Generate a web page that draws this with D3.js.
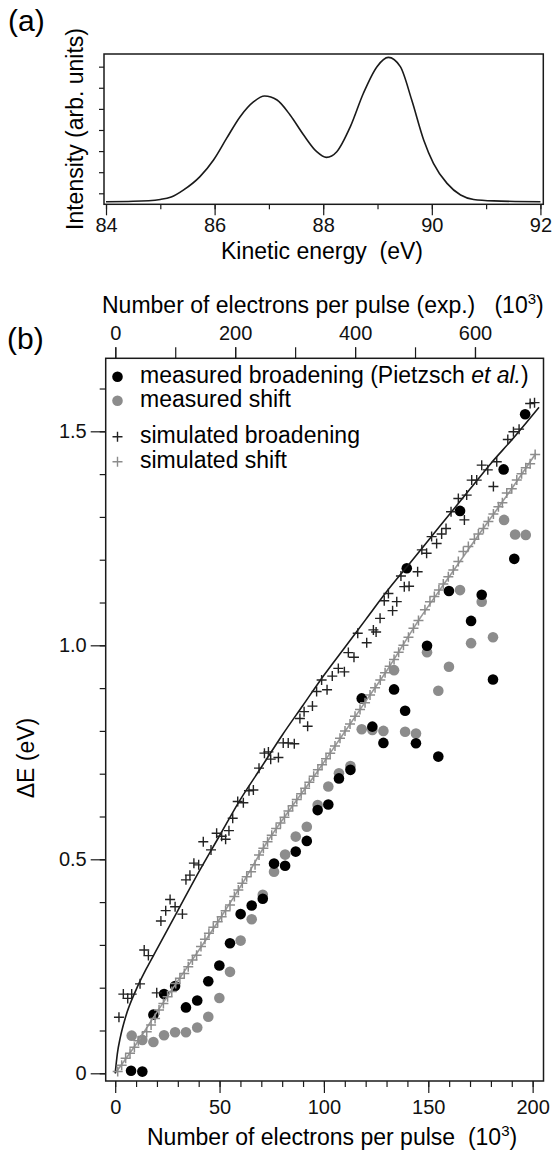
<!DOCTYPE html>
<html>
<head>
<meta charset="utf-8">
<script src="https://cdn.jsdelivr.net/npm/d3@7"></script>
<style>
  html, body { margin: 0; padding: 0; background: #fff; }
  svg { display: block; font-family: "Liberation Sans", Arial, sans-serif; }
</style>
</head>
<body>
<svg id="fig"></svg>
<script>
'use strict';

// ---- panel (a) : photoemission spectrum ----
var kinEnergy = [84.0, 84.5, 85.0, 85.2, 85.43, 85.73, 85.98, 86.22, 86.47, 86.72, 86.92, 87.15, 87.39, 87.64, 87.88,
                 88.06, 88.25, 88.5, 88.74, 88.99, 89.2, 89.42, 89.63, 89.85, 90.03, 90.28, 90.53, 90.77, 91.14, 92.0];
var intensity = [0.60, 0.62, 0.71, 0.82, 1.16, 1.79, 2.58, 3.60, 4.63, 5.34, 5.61, 5.42, 4.71, 3.76, 2.97,
                 2.70, 2.97, 4.16, 5.74, 7.00, 7.44, 7.00, 5.42, 3.53, 2.42, 1.47, 0.92, 0.71, 0.64, 0.60];
var kineticTicks = [84, 86, 88, 90, 92];
var kineticMinor = [84, 85, 86, 87, 88, 89, 90, 91, 92];
var intensityTicks = [1, 2, 3, 4, 5, 6, 7];

// ---- panel (b) : broadening and shift vs number of electrons ----
var measX = [7.6, 13.0, 18.3, 23.4, 28.7, 33.9, 39.3, 44.6, 49.9, 55.0, 60.1, 65.4, 70.7, 76.1, 81.4, 86.5, 91.8, 97.0, 102.1,
             107.2, 112.7, 118.1, 123.2, 128.5, 133.6, 138.9, 139.7, 144.1, 149.4, 154.8, 159.9, 165.2, 170.5, 175.6, 181.0,
             186.1, 191.2, 196.4];
var measBroad = [0.006, 0.004, 0.137, 0.185, 0.204, 0.154, 0.170, 0.215, 0.252, 0.304, 0.372, 0.392, 0.408, 0.490, 0.485,
                 0.518, 0.543, 0.615, 0.628, 0.689, 0.709, 0.876, 0.810, 0.772, 0.897, 0.847, 1.180, 0.771, 0.999, 0.740,
                 1.127, 1.314, 1.057, 1.118, 0.920, 1.411, 1.202, 1.540];
var shiftX = [7.9, 13.0, 18.3, 23.4, 28.7, 33.9, 39.3, 44.6, 49.9, 55.0, 60.1, 65.4, 70.7, 76.1, 81.4, 86.5, 91.8, 97.0, 102.1,
              107.2, 112.7, 118.1, 123.2, 128.5, 133.6, 138.9, 144.1, 149.4, 154.8, 159.9, 165.2, 170.5, 175.6, 181.0,
              186.3, 191.6, 196.7];
var measShift = [0.088, 0.078, 0.073, 0.089, 0.096, 0.096, 0.107, 0.132, 0.176, 0.237, 0.310, 0.360, 0.417, 0.471, 0.511,
                 0.553, 0.576, 0.627, 0.670, 0.701, 0.718, 0.804, 0.802, 0.800, 0.942, 0.798, 0.794, 0.984, 0.894, 0.950,
                 1.129, 1.005, 1.102, 1.019, 1.293, 1.259, 1.258];

var simBroadX = [1.8, 3.9, 6.0, 7.9, 11.9, 13.9, 15.9, 19.9, 21.9, 24.2, 26.3, 28.7, 32.2, 33.9, 35.8, 37.7, 40.0, 42.2, 45.9,
                 48.6, 51.0, 52.9, 54.5, 56.3, 58.7, 61.4, 64.1, 66.2, 68.9, 71.5, 73.4, 74.5, 78.2, 80.5, 82.9, 85.8, 88.5,
                 90.5, 92.2, 94.5, 96.5, 98.9, 101.5, 104.0, 106.9, 109.8, 111.7, 114.4, 116.2, 120.5, 123.7, 125.0, 126.9,
                 128.9, 130.9, 132.9, 134.9, 136.9, 138.5, 140.8, 144.9, 146.9, 149.2, 151.6, 154.0, 156.4, 158.5, 160.9,
                 164.4, 167.3, 168.4, 170.8, 173.2, 175.6, 178.5, 181.2, 182.8, 188.1, 190.8, 193.5, 198.8, 200.9];
var simBroad = [0.131, 0.185, 0.175, 0.185, 0.209, 0.288, 0.275, 0.188, 0.356, 0.380, 0.406, 0.389, 0.372, 0.452, 0.463,
                0.491, 0.487, 0.541, 0.522, 0.561, 0.554, 0.547, 0.567, 0.596, 0.635, 0.632, 0.660, 0.662, 0.713, 0.748,
                0.751, 0.734, 0.738, 0.772, 0.772, 0.770, 0.829, 0.845, 0.811, 0.858, 0.892, 0.919, 0.896, 0.928, 0.946,
                0.938, 0.983, 0.972, 1.028, 1.006, 1.036, 1.031, 1.063, 1.104, 1.121, 1.081, 1.102, 1.162, 1.137, 1.138,
                1.172, 1.223, 1.215, 1.254, 1.238, 1.260, 1.273, 1.312, 1.343, 1.293, 1.351, 1.386, 1.386, 1.421, 1.410,
                1.371, 1.429, 1.481, 1.499, 1.505, 1.565, 1.567];

var simShiftX = [1.2, 3.1, 5.0, 7.1, 9.2, 11.1, 13.0, 15.1, 17.2, 19.1, 21.0, 23.1, 25.1, 27.1, 29.0, 31.0, 33.1, 35.0, 37.0,
                 39.0, 41.1, 43.0, 44.9, 47.0, 49.1, 51.0, 52.9, 55.0, 57.1, 59.0, 60.9, 63.0, 65.1, 67.0, 68.9, 71.0, 73.0,
                 75.0, 77.1, 79.2, 81.1, 83.0, 85.0, 87.0, 89.1, 91.0, 93.0, 95.1, 97.1, 99.1, 101.0, 103.0, 105.3, 107.7,
                 110.1, 112.5, 114.9, 117.3, 119.7, 122.1, 124.5, 127.0, 129.3, 131.5, 133.6, 135.8, 138.1, 140.5, 142.9,
                 145.3, 148.4, 150.8, 152.9, 155.1, 157.2, 159.6, 162.0, 164.4, 166.8, 169.2, 172.1, 174.0, 176.4, 178.8,
                 181.2, 183.6, 185.5, 187.6, 190.0, 192.4, 194.7, 196.7, 198.8, 201.2];
var simShift = [0.004, 0.019, 0.035, 0.047, 0.061, 0.076, 0.085, 0.097, 0.113, 0.128, 0.148, 0.163, 0.179, 0.191, 0.210,
                0.222, 0.233, 0.249, 0.265, 0.276, 0.296, 0.313, 0.327, 0.341, 0.354, 0.366, 0.380, 0.393, 0.413, 0.428,
                0.444, 0.459, 0.471, 0.487, 0.510, 0.526, 0.541, 0.556, 0.572, 0.585, 0.598, 0.613, 0.625, 0.640, 0.653,
                0.666, 0.680, 0.694, 0.709, 0.721, 0.735, 0.748, 0.765, 0.783, 0.800, 0.816, 0.834, 0.850, 0.866, 0.884,
                0.901, 0.919, 0.936, 0.951, 0.967, 0.984, 1.000, 1.019, 1.040, 1.058, 1.083, 1.102, 1.114, 1.129, 1.143,
                1.160, 1.176, 1.196, 1.219, 1.231, 1.248, 1.260, 1.273, 1.289, 1.307, 1.324, 1.333, 1.356, 1.366, 1.386,
                1.401, 1.415, 1.424, 1.446];

// guide curves drawn through the simulations
var fitBroadX = [0, 1, 2.5, 5, 10, 15, 20, 30, 40, 50, 60, 70, 80, 90, 100, 110, 120, 130, 140, 150, 160, 170, 180, 190, 203];
var fitBroad = [0, 0.045, 0.085, 0.132, 0.195, 0.245, 0.290, 0.380, 0.470, 0.555, 0.640, 0.715, 0.790, 0.860, 0.930, 0.995,
                1.060, 1.125, 1.185, 1.245, 1.305, 1.365, 1.425, 1.480, 1.556];
var fitShiftX = [0, 10, 20, 30, 40, 50, 60, 73.4, 85, 95.7, 110, 120, 130, 146, 160, 175, 190, 201.5];
var fitShift = [0, 0.068, 0.143, 0.216, 0.287, 0.360, 0.436, 0.545, 0.625, 0.697, 0.798, 0.869, 0.940, 1.063, 1.160, 1.264,
                1.366, 1.448];

var electronTicks = [0, 50, 100, 150, 200];
var electronMinor = d3.range(0, 201, 10);
var expTicks = [0, 200, 400, 600];
var expMinor = [0, 100, 200, 300, 400, 500, 600];
var deltaTicks = [0, 0.5, 1.0, 1.5];
var deltaMinor = d3.range(0, 17).map(function (i) { return i / 10; });

var legendRows = [
  { text: 'measured broadening (Pietzsch ', italic: 'et al.', tail: ')', kind: 'dot', color: '#000' },
  { text: 'measured shift', kind: 'dot', color: '#8c8c8c' },
  { text: 'simulated broadening', kind: 'cross', color: '#222' },
  { text: 'simulated shift', kind: 'cross', color: '#8c8c8c' }
];
var legendY = [376.7, 400.7, 436.7, 461.7];

var W = 552, H = 1153;
var INK = '#1a1a1a';
var GRAY = '#8c8c8c';

var svg = d3.select('#fig')
  .attr('width', W)
  .attr('height', H);

svg.append('rect')
  .attr('width', W)
  .attr('height', H)
  .attr('fill', '#fff');

function styleAxis(g, size) {
  g.select('.domain').remove();
  g.attr('font-family', '"Liberation Sans", Arial, sans-serif')
    .attr('font-size', size);
  g.selectAll('.tick line').attr('stroke', INK).attr('stroke-width', 1.2);
  g.selectAll('.tick text').attr('fill', '#111');
}

function crossPath(s) {
  return 'M' + (-s) + ',0H' + s + 'M0,' + (-s) + 'V' + s;
}

// ===================== panel (a) =====================
var boxA = { left: 104, right: 543.3, top: 54, bottom: 204.3 };
var xA = d3.scaleLinear().domain([83.963, 92.053]).range([boxA.left, boxA.right]);
var yA = d3.scaleLinear().domain([0.479, 7.60]).range([boxA.bottom, boxA.top]);

var gA = svg.append('g');

gA.append('g')
  .attr('transform', 'translate(0,' + boxA.bottom + ')')
  .call(d3.axisBottom(xA).tickValues(kineticMinor).tickSize(5).tickFormat(''))
  .call(styleAxis, 20);
gA.append('g')
  .attr('transform', 'translate(0,' + boxA.bottom + ')')
  .call(d3.axisBottom(xA).tickValues(kineticTicks).tickSize(11).tickPadding(3).tickFormat(d3.format('d')))
  .call(styleAxis, 20);
gA.append('g')
  .attr('transform', 'translate(' + boxA.left + ',0)')
  .call(d3.axisLeft(yA).tickValues(intensityTicks).tickSize(5).tickFormat(''))
  .call(styleAxis, 20);

var spectrum = kinEnergy.map(function (e, i) { return [e, intensity[i]]; });
gA.append('path')
  .datum(spectrum)
  .attr('fill', 'none')
  .attr('stroke', INK)
  .attr('stroke-width', 1.6)
  .attr('d', d3.line()
    .curve(d3.curveMonotoneX)
    .x(function (d) { return xA(d[0]); })
    .y(function (d) { return yA(d[1]); }));

gA.append('rect')
  .attr('x', boxA.left)
  .attr('y', boxA.top)
  .attr('width', boxA.right - boxA.left)
  .attr('height', boxA.bottom - boxA.top)
  .attr('fill', 'none')
  .attr('stroke', INK)
  .attr('stroke-width', 1.5);

gA.append('text')
  .attr('x', 322)
  .attr('y', 259)
  .attr('text-anchor', 'middle')
  .attr('font-size', 23)
  .style('white-space', 'pre')
  .text('Kinetic energy  (eV)');

gA.append('text')
  .attr('transform', 'translate(83,129) rotate(-90)')
  .attr('text-anchor', 'middle')
  .attr('font-size', 23)
  .text('Intensity (arb. units)');

gA.append('text')
  .attr('x', 8)
  .attr('y', 31)
  .attr('font-size', 30)
  .text('(a)');

// ===================== panel (b) =====================
var boxB = { left: 105.7, right: 543.5, top: 358.3, bottom: 1081 };
var xB = d3.scaleLinear().domain([-4.55, 205.2]).range([boxB.left, boxB.right]);
var xTop = d3.scaleLinear().domain([-16, 714.3]).range([boxB.left, boxB.right]);
var yB = d3.scaleLinear().domain([-0.018, 1.6706]).range([boxB.bottom, boxB.top]);

var gB = svg.append('g');

// bottom axis
gB.append('g')
  .attr('transform', 'translate(0,' + boxB.bottom + ')')
  .call(d3.axisBottom(xB).tickValues(electronMinor).tickSize(6).tickFormat(''))
  .call(styleAxis, 20);
gB.append('g')
  .attr('transform', 'translate(0,' + boxB.bottom + ')')
  .call(d3.axisBottom(xB).tickValues(electronTicks).tickSize(12).tickPadding(7).tickFormat(d3.format('d')))
  .call(styleAxis, 20);

// top axis (experimental scale)
gB.append('g')
  .attr('transform', 'translate(0,' + boxB.top + ')')
  .call(d3.axisTop(xTop).tickValues(expMinor).tickSize(11).tickFormat(''))
  .call(styleAxis, 20);
gB.append('g')
  .attr('transform', 'translate(0,' + boxB.top + ')')
  .call(d3.axisTop(xTop).tickValues(expTicks).tickSize(11).tickPadding(7).tickFormat(d3.format('d')))
  .call(styleAxis, 20);

// left axis
gB.append('g')
  .attr('transform', 'translate(' + boxB.left + ',0)')
  .call(d3.axisLeft(yB).tickValues(deltaMinor).tickSize(6).tickFormat(''))
  .call(styleAxis, 20);
gB.append('g')
  .attr('transform', 'translate(' + boxB.left + ',0)')
  .call(d3.axisLeft(yB).tickValues(deltaTicks).tickSize(15).tickPadding(4)
    .tickFormat(function (d) { return d === 0 ? '0' : d3.format('.1f')(d); }))
  .call(styleAxis, 20);

var plot = gB.append('g');

function pairs(xs, ys) {
  return xs.map(function (x, i) { return [x, ys[i]]; });
}

var lineB = d3.line()
  .curve(d3.curveMonotoneX)
  .x(function (d) { return xB(d[0]); })
  .y(function (d) { return yB(d[1]); });

// measured shift (gray dots)
plot.append('g').selectAll('circle')
  .data(pairs(shiftX, measShift))
  .join('circle')
  .attr('cx', function (d) { return xB(d[0]); })
  .attr('cy', function (d) { return yB(d[1]); })
  .attr('r', 5.3)
  .attr('fill', GRAY);

// measured broadening (black dots)
plot.append('g').selectAll('circle')
  .data(pairs(measX, measBroad))
  .join('circle')
  .attr('cx', function (d) { return xB(d[0]); })
  .attr('cy', function (d) { return yB(d[1]); })
  .attr('r', 5.3)
  .attr('fill', '#000');

plot.append('path')
  .datum(pairs(fitShiftX, fitShift))
  .attr('fill', 'none')
  .attr('stroke', '#999')
  .attr('stroke-width', 1.6)
  .attr('d', lineB);

plot.append('path')
  .datum(pairs(fitBroadX, fitBroad))
  .attr('fill', 'none')
  .attr('stroke', INK)
  .attr('stroke-width', 1.6)
  .attr('d', lineB);

// simulated shift (gray crosses)
plot.append('g').selectAll('path')
  .data(pairs(simShiftX, simShift))
  .join('path')
  .attr('transform', function (d) { return 'translate(' + xB(d[0]) + ',' + yB(d[1]) + ')'; })
  .attr('d', crossPath(5))
  .attr('stroke', GRAY)
  .attr('stroke-width', 1.5);

// simulated broadening (black crosses)
plot.append('g').selectAll('path')
  .data(pairs(simBroadX, simBroad))
  .join('path')
  .attr('transform', function (d) { return 'translate(' + xB(d[0]) + ',' + yB(d[1]) + ')'; })
  .attr('d', crossPath(5))
  .attr('stroke', '#222')
  .attr('stroke-width', 1.4);

gB.append('rect')
  .attr('x', boxB.left)
  .attr('y', boxB.top)
  .attr('width', boxB.right - boxB.left)
  .attr('height', boxB.bottom - boxB.top)
  .attr('fill', 'none')
  .attr('stroke', INK)
  .attr('stroke-width', 1.5);

// legend
var legend = gB.append('g');
legendRows.forEach(function (row, i) {
  var cy = legendY[i];
  if (row.kind === 'dot') {
    legend.append('circle')
      .attr('cx', 117.5)
      .attr('cy', cy)
      .attr('r', 5.3)
      .attr('fill', row.color);
  } else {
    legend.append('path')
      .attr('transform', 'translate(117.5,' + cy + ')')
      .attr('d', crossPath(5))
      .attr('stroke', row.color)
      .attr('stroke-width', 1.4);
  }
  var t = legend.append('text')
    .attr('x', 140)
    .attr('y', cy + 6.5)
    .attr('font-size', 23)
    .style('white-space', 'pre');
  t.append('tspan').text(row.text);
  if (row.italic) {
    t.append('tspan').attr('font-style', 'italic').text(row.italic);
    t.append('tspan').text(row.tail);
  }
});

// axis titles
var bottomTitle = gB.append('text')
  .attr('x', 147)
  .attr('y', 1145)
  .attr('font-size', 23)
  .style('white-space', 'pre');
bottomTitle.append('tspan').text('Number of electrons per pulse  (10');
bottomTitle.append('tspan').attr('font-size', 15).attr('dy', -9).text('3');
bottomTitle.append('tspan').attr('dy', 9).text(')');

var topTitle = gB.append('text')
  .attr('x', 102)
  .attr('y', 313)
  .attr('font-size', 23)
  .style('white-space', 'pre');
topTitle.append('tspan').text('Number of electrons per pulse (exp.)   (10');
topTitle.append('tspan').attr('font-size', 15).attr('dy', -9).text('3');
topTitle.append('tspan').attr('dy', 9).text(')');

gB.append('text')
  .attr('transform', 'translate(34,758) rotate(-90)')
  .attr('text-anchor', 'middle')
  .attr('font-size', 23)
  .text('\u0394E (eV)');

gB.append('text')
  .attr('x', 7)
  .attr('y', 349)
  .attr('font-size', 30)
  .text('(b)');
</script>
</body>
</html>
